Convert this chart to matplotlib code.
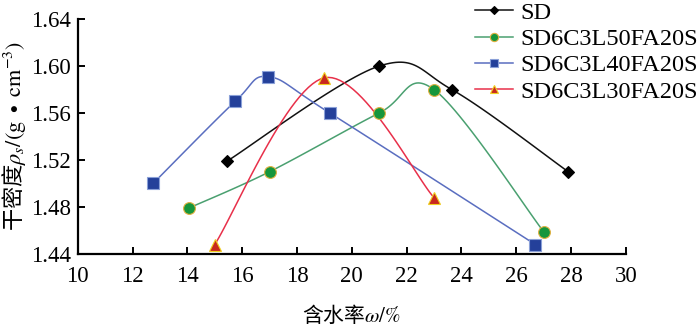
import numpy as np
import matplotlib
matplotlib.use("Agg")
import matplotlib.pyplot as plt

plt.rcParams['font.family'] = ['Liberation Serif', 'Noto Sans CJK SC']
plt.rcParams['mathtext.fontset'] = 'stix'

# data
sd_x = [15.45, 21.0, 23.65, 27.9]
sd_y = [1.519, 1.600, 1.580, 1.510]
l50_x = [14.05, 17.0, 21.0, 23.0, 27.0]
l50_y = [1.479, 1.510, 1.560, 1.580, 1.459]
l40_x = [12.75, 15.75, 16.95, 19.2, 26.7]
l40_y = [1.500, 1.570, 1.591, 1.560, 1.448]
l30_x = [15.0, 19.0, 23.0]
l30_y = [1.448, 1.590, 1.488]

labels = ['SD', 'SD6C3L50FA20S', 'SD6C3L40FA20S', 'SD6C3L30FA20S']


def smooth(xs, ys, n=30):
    # excel-like smoothed line (bezier through the points)
    p = np.column_stack([xs, ys]).astype(float)
    p_ext = np.vstack([p[0], p, p[-1]])
    out = []
    t = np.linspace(0, 1, n)[:, None]
    for i in range(1, len(p_ext) - 2):
        p0, p1, p2, p3 = p_ext[i - 1], p_ext[i], p_ext[i + 1], p_ext[i + 2]
        c1 = p1 + (p2 - p0) / 6
        c2 = p2 - (p3 - p1) / 6
        seg = ((1 - t) ** 3) * p1 + 3 * ((1 - t) ** 2) * t * c1 + 3 * (1 - t) * t ** 2 * c2 + t ** 3 * p2
        out.append(seg)
    out = np.vstack(out)
    return out[:, 0], out[:, 1]


fig = plt.figure(figsize=(7, 3.35), dpi=100)
ax = fig.add_axes([0.111, 0.242, 0.783, 0.701])

series = [
    (sd_x, sd_y, '#111111', 'D', 'black', 'black', 6),
    (l50_x, l50_y, '#4aa070', 'o', '#16963c', '#e0b040', 8.5),
    (l40_x, l40_y, '#5a6ec0', 's', '#24409a', '#8aa0d8', 8.5),
    (l30_x, l30_y, '#e8304a', '^', '#c8281e', '#f0d020', 8.5),
]
handles = []
for (xs, ys, lc, mk, mfc, mec, ms), lab in zip(series, labels):
    sx, sy = smooth(xs, ys)
    ax.plot(sx, sy, color=lc, lw=1.1, zorder=2)
    ax.plot(xs, ys, ls='none', marker=mk, ms=ms, mfc=mfc, mec=mec, mew=0.8, zorder=3)
    h, = ax.plot([], [], color=lc, lw=1.1, marker=mk, ms=ms * 0.7, mfc=mfc, mec=mec, mew=0.8)
    handles.append(h)

ax.set_xlim(10, 30)
ax.set_ylim(1.44, 1.64)
ax.set_xticks(np.arange(10, 31, 2))
ax.set_yticks([1.44, 1.48, 1.52, 1.56, 1.60, 1.64])
ax.set_yticklabels(['1.44', '1.48', '1.52', '1.56', '1.60', '1.64'])
ax.spines['top'].set_visible(False)
ax.spines['right'].set_visible(False)
ax.spines['left'].set_linewidth(1.6)
ax.spines['bottom'].set_linewidth(1.6)
ax.tick_params(direction='in', length=5, width=1.4, labelsize=16.5)
ax.tick_params(axis='y', pad=5)
ax.tick_params(axis='x', pad=9)

ax.set_xlabel('含水率$\\omega/\\%$', fontsize=15, labelpad=12, family='Noto Sans CJK SC')
ax.set_ylabel('干密度$\\rho_s/(\\mathrm{g}\\ \\bullet\\ \\mathrm{cm}^{-3})$', fontsize=16,
              labelpad=2, family='Noto Sans CJK SC')

fig.legend(handles, labels, loc='upper left', bbox_to_anchor=(0.679, 0.995),
           frameon=False, fontsize=17.5, handlelength=1.56, handletextpad=0.29,
           labelspacing=0.18, borderaxespad=0, borderpad=0)

fig.savefig('out.png', dpi=100)
